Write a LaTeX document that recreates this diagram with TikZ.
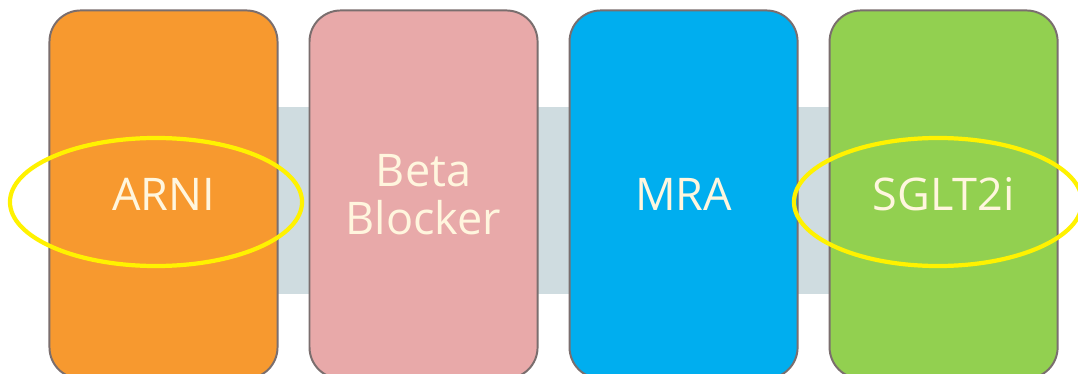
\documentclass[tikz,border=0pt]{standalone}
\usepackage{fontspec}
\setmainfont{Open Sans}
\usetikzlibrary{positioning,backgrounds}

\definecolor{arnicol}{HTML}{F7992F}
\definecolor{betacol}{HTML}{E8A9A9}
\definecolor{mracol}{HTML}{00AEEF}
\definecolor{sgltcol}{HTML}{92D050}
\definecolor{bandcol}{HTML}{CFDCE0}
\definecolor{edgecol}{HTML}{7A6E6E}
\definecolor{txtcol}{HTML}{FFF6DE}

\tikzset{
  drug/.style={draw=edgecol, line width=1.4pt, rounded corners=0.78cm,
    minimum width=5.7cm, minimum height=9.2cm, inner sep=0pt,
    text=txtcol, align=center, font=\fontsize{32}{34}\selectfont},
  ring/.style={draw=yellow, line width=3pt}
}

\begin{document}
\begin{tikzpicture}[x=0.025cm, y=-0.025cm, node distance=0.75cm]
  \useasboundingbox (0,0) rectangle (1078,374);

  % the four drug classes
  \node[drug, fill=arnicol] (arni) at (163.5,194.5) {ARNI};
  \node[drug, fill=betacol, right=of arni] (beta) {Beta\\Blocker};
  \node[drug, fill=mracol, right=of beta] (mra) {MRA};
  \node[drug, fill=sgltcol, right=of mra] (sglt) {SGLT2i};

  % band behind the boxes
  \begin{scope}[on background layer]
    \fill[white] (0,0) rectangle (1078,374);
    \fill[bandcol] (arni.center |- 0,107) rectangle (sglt.center |- 0,294);
  \end{scope}

  % yellow rings
  \draw[ring] (156,202) ellipse [x radius=3.65cm, y radius=1.6cm];
  \draw[ring] (938,202) ellipse [x radius=3.6cm, y radius=1.6cm];

\end{tikzpicture}
\end{document}
